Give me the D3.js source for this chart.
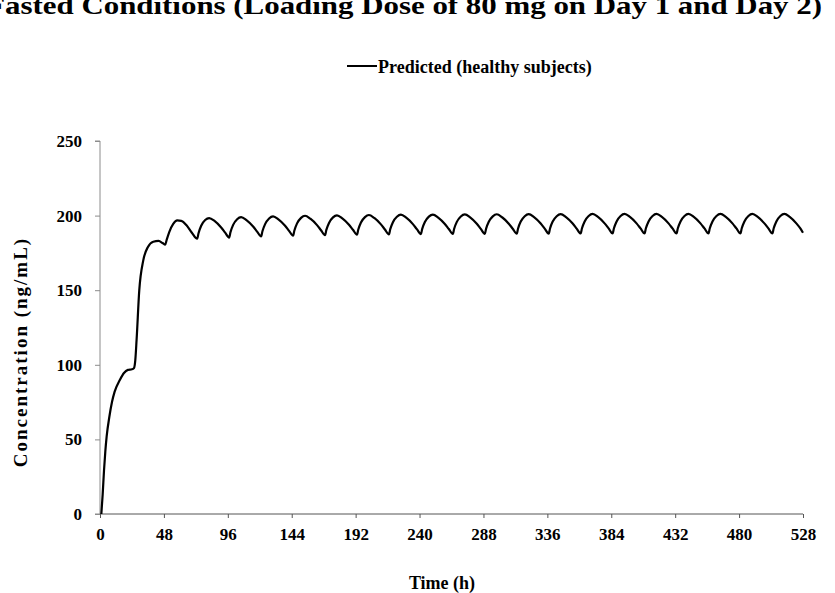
<!DOCTYPE html>
<html>
<head>
<meta charset="utf-8">
<script src="https://cdn.jsdelivr.net/npm/d3@7"></script>
<style>
  html, body { margin: 0; padding: 0; background: #fff; }
  svg { display: block; font-family: "Liberation Serif", "DejaVu Serif", serif; font-weight: bold; }
</style>
</head>
<body>
<svg id="chart" width="835" height="593"></svg>
<script>
// Chart text
const chartTitle = "Fasted Conditions (Loading Dose of 80 mg on Day 1 and Day 2)";
const legendLabel = "Predicted (healthy subjects)";

// Tick values
const xTicks = [0, 48, 96, 144, 192, 240, 288, 336, 384, 432, 480, 528];
const yTicks = [0, 50, 100, 150, 200, 250];

// Predicted concentration: loading days
const loadTime = [1, 2, 3, 4, 5, 7, 9, 11, 15, 18, 21, 24,
                  25.5, 26.5, 27.5, 29.5, 32.5, 36, 40, 44, 47, 49,
                  50, 52, 55, 58, 61, 65, 69];
const loadConc = [0, 13, 29, 42, 52, 65, 75, 82, 90, 94.5, 96.6, 97,
                  97.8, 103, 117, 150, 170, 179, 182.5, 183, 181.6, 180.5,
                  183.5, 189, 194.5, 196.8, 196.5, 193.5, 188.5];

// Maintenance cycles: trough hours and the points after each trough (+0, +1, +3, +6, +9, +13, +18, +21 h)
const cycleStart = [73, 97, 121, 145, 169, 193, 217, 241, 265, 289, 313, 337, 361, 385, 409, 433, 457, 481, 505];
const cycleOffset = [0, 1, 3, 6, 9, 13, 18, 21];
const cycleConc = [
  [184.5, 188.2, 193.2, 197.0, 198.3, 196.4, 192.0, 188.6],
  [185.3, 188.9, 193.8, 197.6, 199.0, 197.0, 192.7, 189.3],
  [186.0, 189.5, 194.3, 198.1, 199.5, 197.5, 193.2, 189.8],
  [186.5, 190.0, 194.8, 198.5, 199.9, 197.9, 193.6, 190.2],
  [186.9, 190.4, 195.1, 198.8, 200.2, 198.2, 193.9, 190.5],
  [187.2, 190.7, 195.4, 199.0, 200.4, 198.4, 194.1, 190.7],
  [187.4, 190.9, 195.6, 199.2, 200.6, 198.6, 194.3, 190.9],
  [187.6, 191.1, 195.7, 199.3, 200.7, 198.7, 194.4, 191.0],
  [187.7, 191.2, 195.8, 199.4, 200.8, 198.8, 194.5, 191.1],
  [187.8, 191.3, 195.9, 199.5, 200.9, 198.9, 194.6, 191.2],
  [187.9, 191.4, 196.0, 199.6, 201.0, 199.0, 194.7, 191.3],
  [187.9, 191.4, 196.0, 199.6, 201.0, 199.0, 194.7, 191.3],
  [188.0, 191.5, 196.1, 199.7, 201.1, 199.1, 194.8, 191.4],
  [188.0, 191.5, 196.1, 199.7, 201.1, 199.1, 194.8, 191.4],
  [188.0, 191.5, 196.1, 199.7, 201.1, 199.1, 194.8, 191.4],
  [188.0, 191.5, 196.1, 199.7, 201.1, 199.1, 194.8, 191.4],
  [188.0, 191.5, 196.1, 199.7, 201.1, 199.1, 194.8, 191.4],
  [188.0, 191.5, 196.1, 199.7, 201.1, 199.1, 194.8, 191.4],
  [188.0, 191.5, 196.1, 199.7, 201.1, 199.1, 194.8, 191.4]
];
const endTime = 528;
const endConc = 188.5;

// Build one series of {t, c}
const series = loadTime.map((t, i) => ({ t: t, c: loadConc[i] }));
cycleStart.forEach((t0, k) => {
  cycleOffset.forEach((o, j) => series.push({ t: t0 + o, c: cycleConc[k][j] }));
});
series.push({ t: endTime, c: endConc });

const svg = d3.select("#chart");
const margin = { top: 141, right: 32, bottom: 79, left: 100 };
const innerWidth = 835 - margin.left - margin.right;
const innerHeight = 593 - margin.top - margin.bottom;
const g = svg.append("g")
  .attr("transform", `translate(${margin.left},${margin.top})`);

const x = d3.scaleLinear().domain([0, 528]).range([0, innerWidth]);
const y = d3.scaleLinear().domain([0, 250]).range([innerHeight, 0]);

// Title (cut by the top and left edges, as in the picture)
const title = svg.append("text")
  .attr("x", 822)
  .attr("y", 14)
  .attr("text-anchor", "end")
  .style("font-size", "26px")
  .text(chartTitle);
// stretch it so that "asted ..." runs from x=5 to x=822
const fullLen = title.node().getComputedTextLength();
const restLen = title.node().getSubStringLength(1, chartTitle.length - 1);
title.attr("textLength", 817 * fullLen / restLen)
  .attr("lengthAdjust", "spacingAndGlyphs");

// Legend
svg.append("line")
  .attr("x1", 347).attr("x2", 377)
  .attr("y1", 66).attr("y2", 66)
  .attr("stroke", "#000")
  .attr("stroke-width", 2);
svg.append("text")
  .attr("x", 378)
  .attr("y", 73)
  .style("font-size", "18px")
  .text(legendLabel);

// Y axis
const yAxis = g.append("g")
  .call(d3.axisLeft(y).tickValues(yTicks).tickSize(5).tickPadding(13));
yAxis.select(".domain").attr("stroke", "#8c8c8c").attr("d", `M-5,${innerHeight}H0V0H-5`);
yAxis.selectAll(".tick line").attr("stroke", "#8c8c8c");
yAxis.selectAll(".tick text")
  .attr("fill", "#000")
  .style("font-family", "'Liberation Serif', serif")
  .style("font-weight", "bold")
  .style("font-size", "17px");

// X axis
const xAxis = g.append("g")
  .attr("transform", `translate(0,${innerHeight})`)
  .call(d3.axisBottom(x).tickValues(xTicks).tickSize(4).tickPadding(10).tickFormat(d3.format("d")));
xAxis.select(".domain").attr("stroke", "#555").attr("d", `M0,0H${innerWidth}`);
xAxis.selectAll(".tick line").attr("stroke", "#555");
xAxis.selectAll(".tick text")
  .attr("fill", "#000")
  .style("font-family", "'Liberation Serif', serif")
  .style("font-weight", "bold")
  .style("font-size", "17px");

// Axis titles
svg.append("text")
  .attr("x", 442)
  .attr("y", 589)
  .attr("text-anchor", "middle")
  .style("font-size", "18px")
  .text("Time (h)");

svg.append("text")
  .attr("transform", "translate(27,352) rotate(-90)")
  .attr("text-anchor", "middle")
  .style("font-size", "19px")
  .style("letter-spacing", "2px")
  .text("Concentration (ng/mL)");

// Predicted curve
const line = d3.line()
  .x(d => x(d.t))
  .y(d => y(d.c))
  .curve(d3.curveMonotoneX);

g.append("path")
  .datum(series)
  .attr("fill", "none")
  .attr("stroke", "#000")
  .attr("stroke-width", 2.2)
  .attr("d", line);
</script>
</body>
</html>
